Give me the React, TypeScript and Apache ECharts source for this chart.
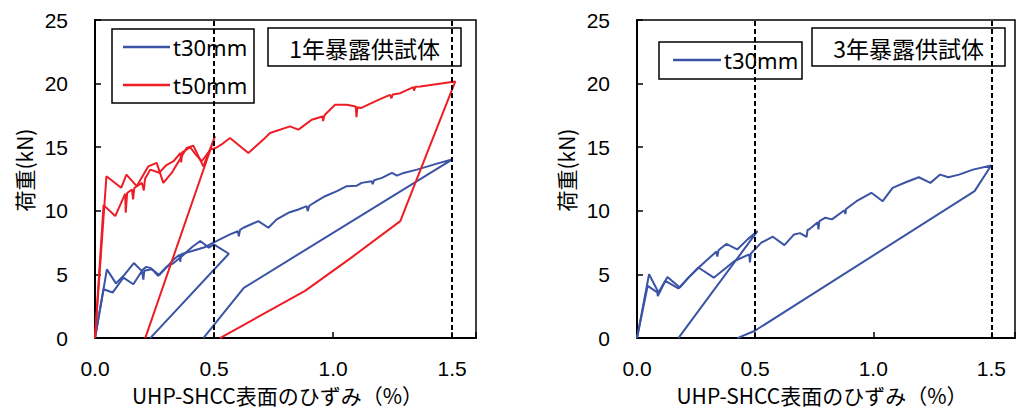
import React, { useEffect, useRef } from "react";
import * as echarts from "echarts";

// ---- data (strain %, load kN) ----
const xTicks = [0, 0.5, 1.0, 1.5];
const yTicks = [0, 5, 10, 15, 20, 25];
const targetStrains = [0.5, 1.5];

// 1年暴露供試体  t30mm
const y1T30First: [number, number][] = [
  [0, 0], [0.05, 5.4], [0.088, 4.3], [0.125, 5.0], [0.163, 5.9], [0.195, 5.3], [0.215, 5.6],
  [0.235, 5.5], [0.265, 4.9], [0.3, 5.6], [0.33, 5.9], [0.366, 6.45], [0.408, 7.16],
  [0.442, 7.63], [0.478, 7.11], [0.499, 7.37], [0.562, 6.63], [0.232, 0],
];
const y1T30Second: [number, number][] = [
  [0, 0], [0.036, 3.84], [0.074, 3.58], [0.119, 4.75], [0.161, 4.23], [0.197, 5.28],
  [0.203, 4.6], [0.207, 5.3], [0.239, 5.41], [0.27, 4.96], [0.331, 6.19], [0.355, 6.55],
  [0.358, 6.0], [0.362, 6.6], [0.408, 6.84], [0.464, 7.16], [0.497, 7.5], [0.567, 8.15],
  [0.6, 8.4], [0.604, 8.0], [0.609, 8.5], [0.623, 8.67], [0.686, 9.19], [0.728, 8.67],
  [0.763, 9.33], [0.812, 9.85], [0.854, 10.11], [0.889, 10.37], [0.893, 9.98], [0.9, 10.4],
  [0.931, 10.76], [0.966, 11.15], [1.016, 11.55], [1.057, 11.94], [1.099, 11.98],
  [1.12, 12.2], [1.162, 12.33], [1.166, 12.1], [1.172, 12.4], [1.205, 12.59],
  [1.247, 12.98], [1.268, 12.77], [1.296, 12.98], [1.352, 13.24], [1.436, 13.71],
  [1.499, 14.03], [0.625, 3.95], [0.455, 0],
];
// 1年暴露供試体  t50mm
const y1T50First: [number, number][] = [
  [0, 0], [0.048, 12.72], [0.11, 11.81], [0.132, 12.85], [0.175, 11.94], [0.224, 13.5],
  [0.259, 13.77], [0.287, 12.2], [0.322, 12.98], [0.385, 14.94], [0.413, 15.13],
  [0.455, 13.5], [0.504, 15.86], [0.211, 0],
];
const y1T50Second: [number, number][] = [
  [0, 0], [0.036, 10.45], [0.085, 9.59], [0.127, 11.35], [0.129, 9.85], [0.135, 11.4],
  [0.155, 11.68], [0.16, 10.9], [0.165, 11.8], [0.197, 12.2], [0.205, 11.6], [0.21, 12.5],
  [0.232, 13.24], [0.27, 13.0], [0.3, 13.6], [0.33, 13.9], [0.359, 14.55], [0.362, 13.8],
  [0.366, 14.6], [0.4, 15.0], [0.42, 14.5], [0.448, 13.9], [0.485, 14.81], [0.507, 14.94],
  [0.53, 15.2], [0.567, 15.73], [0.644, 14.55], [0.707, 15.6], [0.735, 16.12],
  [0.819, 16.64], [0.854, 16.38], [0.87, 16.6], [0.91, 17.16], [0.955, 17.42],
  [0.958, 17.05], [0.963, 17.5], [0.973, 17.69], [1.008, 18.34], [1.057, 18.34],
  [1.095, 18.21], [1.098, 17.37], [1.102, 18.15], [1.116, 18.08], [1.197, 18.78],
  [1.239, 19.12], [1.245, 18.85], [1.25, 19.15], [1.282, 19.25], [1.337, 19.72],
  [1.34, 19.45], [1.345, 19.75], [1.366, 19.77], [1.513, 20.17], [1.282, 9.19],
  [1.071, 6.25], [0.882, 3.71], [0.525, 0],
];
// 3年暴露供試体  t30mm
const y3T30First: [number, number][] = [
  [0, 0], [0.051, 5.02], [0.091, 3.58], [0.129, 4.8], [0.181, 3.97], [0.218, 4.75],
  [0.268, 5.67], [0.336, 6.8], [0.34, 6.4], [0.345, 6.9], [0.378, 7.4], [0.424, 6.97],
  [0.468, 7.76], [0.51, 8.41], [0.175, 0],
];
const y3T30Second: [number, number][] = [
  [0, 0], [0.045, 4.1], [0.086, 3.6], [0.088, 3.3], [0.12, 4.5], [0.175, 3.9],
  [0.21, 4.6], [0.26, 5.55], [0.325, 4.75], [0.4125, 6.06], [0.475, 6.58], [0.478, 5.95],
  [0.482, 6.65], [0.499, 6.97], [0.526, 7.5], [0.575, 7.97], [0.624, 7.31], [0.665, 8.15],
  [0.69, 8.25], [0.718, 7.95], [0.722, 8.5], [0.728, 8.54], [0.765, 9.1], [0.768, 8.54],
  [0.772, 9.2], [0.797, 9.46], [0.825, 9.33], [0.878, 10.05], [0.882, 9.75],
  [0.885, 10.15], [0.929, 10.76], [0.992, 11.42], [1.04, 10.76], [1.082, 11.81],
  [1.1375, 12.25], [1.193, 12.64], [1.242, 12.2], [1.283, 12.85], [1.318, 12.64],
  [1.363, 12.85], [1.422, 13.24], [1.499, 13.56], [1.429, 11.55], [0.499, 0.58], [0.425, 0],
];

const BLUE = "#3A53A4";
const RED = "#EE1D25";
const xName = "UHP-SHCC表面のひずみ（%）";
const yName = "荷重(kN)";
const NUM_FONT = "Liberation Sans";
const JP_FONT = "Noto Sans CJK JP";

function makeAxes(gridIndex: number, xShift: number) {
  const xAxis = {
    gridIndex,
    type: "value",
    min: xTicks[0],
    max: 1.6,
    interval: xTicks[1] - xTicks[0],
    name: xName,
    nameLocation: "middle",
    nameGap: 45,
    nameTextStyle: { fontFamily: JP_FONT, fontSize: 21, color: "#000", padding: [0, xShift, 0, 0] },
    axisLine: { onZero: false, lineStyle: { color: "#000", width: 2 } },
    axisTick: { inside: true, length: 6, lineStyle: { color: "#000", width: 1.5 } },
    axisLabel: {
      margin: 20,
      fontFamily: NUM_FONT,
      fontSize: 21,
      color: "#000",
      formatter: (v: number) => (xTicks.some((t) => Math.abs(t - v) < 1e-6) ? v.toFixed(1) : ""),
    },
    splitLine: { show: false },
  };
  const yAxis = {
    gridIndex,
    type: "value",
    min: yTicks[0],
    max: yTicks[yTicks.length - 1],
    interval: yTicks[1] - yTicks[0],
    name: yName,
    nameLocation: "middle",
    nameGap: 61,
    nameRotate: 90,
    nameTextStyle: { fontFamily: JP_FONT, fontSize: 21, color: "#000", padding: [0, 0, 0, 18] },
    axisLine: { onZero: false, lineStyle: { color: "#000", width: 2 } },
    axisTick: { inside: true, length: 6, lineStyle: { color: "#000", width: 1.5 } },
    axisLabel: { margin: 27, fontFamily: NUM_FONT, fontSize: 21, color: "#000" },
    splitLine: { show: false },
  };
  return { xAxis, yAxis };
}

function lineSeries(name: string, data: [number, number][], color: string, idx: number, withMark: boolean) {
  const s: any = {
    name,
    type: "line",
    xAxisIndex: idx,
    yAxisIndex: idx,
    data,
    symbol: "none",
    showSymbol: false,
    lineStyle: { color, width: 2 },
    itemStyle: { color },
    z: 3,
  };
  if (withMark) {
    s.markLine = {
      silent: true,
      symbol: ["none", "none"],
      label: { show: false },
      lineStyle: { color: "#000", width: 2, type: [5, 3] },
      data: targetStrains.map((v) => ({ xAxis: v })),
    };
  }
  return s;
}

function legendBox(x: number, y: number, w: number, h: number, items: { label: string; color: string; y: number }[], lineX1: number, lineX2: number) {
  const children: any[] = [
    { type: "rect", shape: { x, y, width: w, height: h }, style: { fill: "#fff", stroke: "#000", lineWidth: 1.5 } },
  ];
  items.forEach((it) => {
    children.push({ type: "line", shape: { x1: lineX1, y1: it.y, x2: lineX2, y2: it.y }, style: { stroke: it.color, lineWidth: 2.5 } });
    children.push({
      type: "text",
      x: lineX2 + 3,
      y: it.y,
      style: { text: it.label, font: '22px "Noto Sans"', fill: "#000", align: "left", verticalAlign: "middle", textAlign: "left", textVerticalAlign: "middle" },
    });
  });
  return { type: "group", z: 100, children };
}

function titleBox(x: number, y: number, w: number, h: number, label: string) {
  return {
    type: "group",
    z: 100,
    children: [
      { type: "rect", shape: { x, y, width: w, height: h }, style: { fill: "#fff", stroke: "#000", lineWidth: 1.5 } },
      {
        type: "text",
        x: x + w / 2,
        y: y + h / 2 + 1,
        style: { text: label, font: `23px "${JP_FONT}"`, fill: "#000", align: "center", verticalAlign: "middle", textAlign: "center", textVerticalAlign: "middle" },
      },
    ],
  };
}

export default function App() {
  const ref = useRef<HTMLDivElement>(null);
  useEffect(() => {
    if (!ref.current) return;
    const chart = echarts.init(ref.current, undefined, { renderer: "svg" });
    const a0 = makeAxes(0, 16);
    const a1 = makeAxes(1, 8);
    chart.setOption({
      animation: false,
      backgroundColor: "#fff",
      grid: [
        { left: 95, top: 20, width: 381, height: 319, show: true, borderColor: "#000", borderWidth: 1.5, containLabel: false },
        { left: 637, top: 20, width: 384, height: 319, show: true, borderColor: "#000", borderWidth: 1.5, containLabel: false },
      ],
      xAxis: [a0.xAxis, a1.xAxis],
      yAxis: [a0.yAxis, a1.yAxis],
      series: [
        lineSeries("t30mm", y1T30First, BLUE, 0, true),
        lineSeries("t30mm", y1T30Second, BLUE, 0, false),
        lineSeries("t50mm", y1T50First, RED, 0, false),
        lineSeries("t50mm", y1T50Second, RED, 0, false),
        lineSeries("t30mm", y3T30First, BLUE, 1, true),
        lineSeries("t30mm", y3T30Second, BLUE, 1, false),
      ],
      graphic: [
        legendBox(112, 29, 142, 74, [
          { label: "t30mm", color: BLUE, y: 47 },
          { label: "t50mm", color: RED, y: 85 },
        ], 123, 170),
        titleBox(268, 28, 193, 38, "1年暴露供試体"),
        legendBox(659, 42, 143, 37, [{ label: "t30mm", color: BLUE, y: 60 }], 673, 721),
        titleBox(812, 28, 193, 38, "3年暴露供試体"),
      ],
    });
    return () => chart.dispose();
  }, []);
  return <div ref={ref} style={{ position: "absolute", left: 0, top: 0, width: 1018, height: 410 }} />;
}
